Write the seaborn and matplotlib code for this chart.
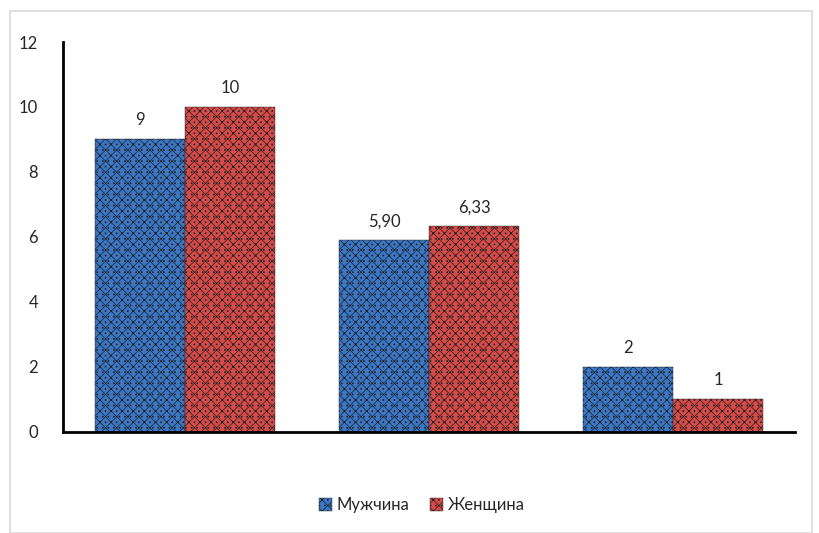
import pandas as pd
import seaborn as sns
import matplotlib.pyplot as plt
from matplotlib.patches import Rectangle

# values
categories = ['A', 'B', 'C']
men = [9, 5.90, 2]
women = [10, 6.33, 1]
men_labels = ['9', '5,90', '2']
women_labels = ['10', '6,33', '1']
series = ['Мужчина', 'Женщина']
colors = ['#3a77c6', '#d64a48']

df = pd.DataFrame({
    'cat': categories * 2,
    'val': men + women,
    'sex': [series[0]] * 3 + [series[1]] * 3,
})

sns.set_style('white')
plt.rcParams['font.family'] = ['Lato', 'DejaVu Sans']
plt.rcParams['hatch.color'] = '#111111'
plt.rcParams['hatch.linewidth'] = 0.5

fig = plt.figure(figsize=(8.19, 5.33), dpi=100)
ax = fig.add_axes([0.0769, 0.1895, 0.8938, 0.7317])

sns.barplot(data=df, x='cat', y='val', hue='sex', palette=colors,
            width=0.738, ax=ax, legend=False, saturation=1)

for patch in ax.patches:
    patch.set_hatch('xxx...')
    patch.set_edgecolor('#222222')
    patch.set_linewidth(0.3)

# value labels
for cont, labels in zip(ax.containers, [men_labels, women_labels]):
    ax.bar_label(cont, labels=labels, padding=8, fontsize=12)

ax.set_ylim(0, 12)
ax.set_xlim(-0.5, 2.5)
ax.set_yticks(range(0, 13, 2))
ax.set_xticks([])
ax.set_xlabel('')
ax.set_ylabel('')
ax.tick_params(axis='y', length=0, pad=18, labelsize=12)
for s in ['top', 'right']:
    ax.spines[s].set_visible(False)
for s in ['left', 'bottom']:
    ax.spines[s].set_color('black')
    ax.spines[s].set_linewidth(2)

# legend
handles = [Rectangle((0, 0), 1, 1, facecolor=c, hatch='xxx...', edgecolor='#222222', linewidth=0.3)
           for c in colors]
fig.legend(handles, series, loc='center', bbox_to_anchor=(0.515, 0.052), ncol=2,
           frameon=False, fontsize=12, handlelength=0.8, handleheight=0.8,
           handletextpad=0.3, columnspacing=1.2)

# outer frame
fig.patches.append(Rectangle((0.012, 0.0), 0.98, 0.98, transform=fig.transFigure,
                             fill=False, edgecolor='#d9d9d9', linewidth=1.2))

fig.savefig('out.png', dpi=100)
